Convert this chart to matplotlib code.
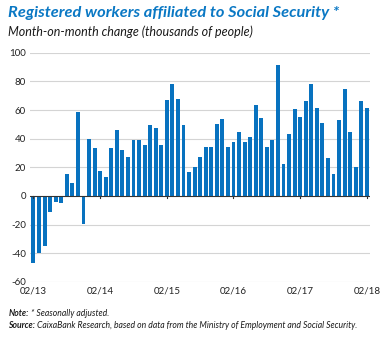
import numpy as np
import matplotlib
matplotlib.use("Agg")
import matplotlib.pyplot as plt

plt.rcParams['font.family'] = ['Lato', 'DejaVu Sans']

# Monthly change, Feb 2013 .. Feb 2018 (thousands of people)
values = [-46.5, -40, -34.6, -11.4, -4, -4.6, 15.3, 9.3, 58.4, -19.8,
          40, 33.3, 17.2, 13, 33.7, 45.8, 32, 27, 39.3, 39.3,
          35.3, 49.8, 47.7, 35.8, 67, 78, 68, 49.3, 17, 20.5,
          27.4, 34.4, 34.4, 50, 53.7, 34.4, 37.7, 45, 37.4, 41.4,
          63.5, 54.4, 34.4, 39, 91.6, 22, 43.3, 61, 55, 66.5,
          78, 61.6, 50.7, 26.5, 15.3, 53, 75, 44.9, 20, 66.3, 61.6]
tick_labels = ["02/13", "02/14", "02/15", "02/16", "02/17", "02/18"]
y_ticks = [-60, -40, -20, 0, 20, 40, 60, 80, 100]

blue = "#0872bf"
x = np.arange(len(values))

fig = plt.figure(figsize=(3.86, 3.38), dpi=100)
ax = fig.add_axes([0.078, 0.166, 0.881, 0.678])

for yv in y_ticks:
    if yv != 0:
        ax.axhline(yv, color="#d4d4d4", lw=0.8, zorder=0)
ax.bar(x, values, width=0.7, color=blue, zorder=2)
ax.axhline(0, color="#333333", lw=0.8, zorder=3)
for xt in range(0, len(values), 12):
    ax.plot([xt, xt], [0, -1.5], color="#333333", lw=0.8, zorder=3)

ax.set_xlim(-0.6, 60.6)
ax.set_ylim(-60, 100)
ax.set_yticks(y_ticks)
ax.set_yticklabels([str(v) for v in y_ticks], fontsize=7, color="#222222")
ax.set_xticks(range(0, len(values), 12))
ax.set_xticklabels(tick_labels, fontsize=7, color="#222222")
ax.tick_params(length=0, pad=3)
for s in ax.spines.values():
    s.set_visible(False)

fig.text(0.022, 0.962, "Registered workers affiliated to Social Security *",
         fontsize=11.8, fontweight="bold", fontstyle="italic", color="#0a78c4",
         va="center")
fig.text(0.022, 0.905, "Month-on-month change (thousands of people)",
         fontsize=9, fontstyle="italic", color="#1a1a1a", va="center")

fig.canvas.draw()
r = fig.canvas.get_renderer()
for ypos, lab, rest in [(0.073, "Note:", " * Seasonally adjusted."),
                        (0.036, "Source:", " CaixaBank Research, based on data from the Ministry of Employment and Social Security.")]:
    t = fig.text(0.022, ypos, lab, fontsize=6.2, fontweight="bold",
                 fontstyle="italic", color="#1a1a1a", va="center")
    bb = t.get_window_extent(r)
    fig.text(bb.x1 / fig.bbox.width, ypos, rest, fontsize=6.2,
             fontstyle="italic", color="#1a1a1a", va="center")

fig.savefig("out.png", dpi=100)
